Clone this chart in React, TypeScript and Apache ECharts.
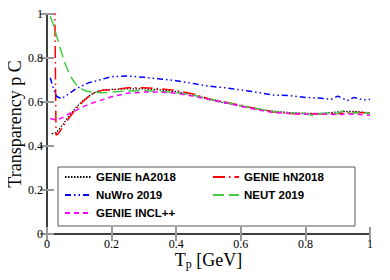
import React, { useEffect, useRef } from "react";
import * as echarts from "echarts";

const xTicks = [0, 0.2, 0.4, 0.6, 0.8, 1];
const yTicks = [0, 0.2, 0.4, 0.6, 0.8, 1];

const hA2018X = [0.015, 0.03, 0.05, 0.07, 0.09, 0.11, 0.13, 0.15, 0.175, 0.2, 0.25, 0.3, 0.35, 0.4, 0.45, 0.5, 0.55, 0.6, 0.65, 0.7, 0.75, 0.8, 0.85, 0.9, 0.95, 1.0];
const hA2018Y = [0.455, 0.462, 0.5, 0.54, 0.575, 0.605, 0.628, 0.645, 0.655, 0.657, 0.66, 0.66, 0.655, 0.647, 0.635, 0.612, 0.595, 0.583, 0.57, 0.558, 0.552, 0.549, 0.548, 0.555, 0.558, 0.55];

const hN2018X = [0.024, 0.026, 0.028, 0.035, 0.05, 0.07, 0.09, 0.11, 0.13, 0.15, 0.175, 0.2, 0.25, 0.3, 0.35, 0.4, 0.45, 0.5, 0.55, 0.6, 0.65, 0.7, 0.75, 0.8, 0.85, 0.9, 0.95, 1.0];
const hN2018Y = [1.05, 0.75, 0.45, 0.455, 0.49, 0.53, 0.57, 0.6, 0.625, 0.645, 0.655, 0.655, 0.665, 0.665, 0.66, 0.652, 0.638, 0.615, 0.6, 0.585, 0.568, 0.555, 0.548, 0.545, 0.545, 0.548, 0.552, 0.55];

const nuwroX = [0.01, 0.02, 0.03, 0.045, 0.06, 0.075, 0.09, 0.11, 0.13, 0.15, 0.175, 0.2, 0.25, 0.3, 0.35, 0.4, 0.45, 0.5, 0.55, 0.6, 0.65, 0.7, 0.75, 0.8, 0.85, 0.88, 0.9, 0.93, 0.95, 0.98, 1.0];
const nuwroY = [0.71, 0.66, 0.625, 0.615, 0.63, 0.645, 0.66, 0.675, 0.688, 0.695, 0.705, 0.715, 0.718, 0.712, 0.705, 0.697, 0.685, 0.672, 0.665, 0.655, 0.644, 0.632, 0.629, 0.621, 0.617, 0.612, 0.627, 0.606, 0.621, 0.609, 0.612];

const neutX = [0.01, 0.02, 0.03, 0.04, 0.05, 0.06, 0.07, 0.08, 0.09, 0.1, 0.12, 0.14, 0.17, 0.2, 0.25, 0.3, 0.35, 0.4, 0.45, 0.5, 0.55, 0.6, 0.65, 0.7, 0.75, 0.8, 0.82, 0.85, 0.88, 0.9, 0.92, 0.94, 0.96, 1.0];
const neutY = [0.99, 0.95, 0.9, 0.85, 0.8, 0.76, 0.725, 0.7, 0.68, 0.665, 0.65, 0.645, 0.642, 0.645, 0.65, 0.652, 0.648, 0.642, 0.632, 0.615, 0.6, 0.582, 0.57, 0.556, 0.55, 0.548, 0.54, 0.548, 0.55, 0.548, 0.562, 0.548, 0.552, 0.548];

const inclX = [0.01, 0.03, 0.05, 0.07, 0.09, 0.11, 0.13, 0.15, 0.175, 0.2, 0.25, 0.3, 0.35, 0.4, 0.45, 0.5, 0.55, 0.6, 0.65, 0.7, 0.75, 0.8, 0.85, 0.9, 0.95, 1.0];
const inclY = [0.525, 0.518, 0.53, 0.548, 0.562, 0.577, 0.59, 0.6, 0.612, 0.624, 0.64, 0.645, 0.645, 0.64, 0.627, 0.612, 0.598, 0.58, 0.565, 0.552, 0.548, 0.545, 0.545, 0.543, 0.545, 0.54];

const zip = (xs: number[], ys: number[]) => xs.map((x, i) => [x, ys[i]]);

const SERIF = "Liberation Serif, DejaVu Serif, serif";
const SANS = "Liberation Sans, Arial, sans-serif";

export default function App() {
  const ref = useRef<HTMLDivElement>(null);
  useEffect(() => {
    const chart = echarts.init(ref.current!, null, { renderer: "svg" });
    const axisCommon = {
      type: "value" as const,
      min: 0,
      max: 1,
      interval: 0.2,
      axisLine: { show: true, lineStyle: { color: "#333", width: 1.5 } },
      axisTick: { show: true, inside: true, length: 7, lineStyle: { color: "#999", width: 2 } },
      splitLine: { show: false },
    };
    const labelStyle = { color: "#000", fontFamily: SERIF, fontSize: 12 };
    const mk = (name: string, data: number[][], color: string, type: any, width = 1.5) => ({
      name,
      type: "line",
      data,
      symbol: "none",
      smooth: false,
      xAxisIndex: 0,
      yAxisIndex: 0,
      lineStyle: { color, width, type },
      itemStyle: { color },
      clip: true,
    });
    const fmt = (v: number) => String(+v.toFixed(1));
    const legendCommon = {
      orient: "vertical",
      top: 171,
      z: 20,
      padding: 0,
      itemWidth: 26,
      itemHeight: 14,
      itemGap: 6,
      itemStyle: { opacity: 0 },
      textStyle: { fontFamily: SANS, fontWeight: "bold", fontSize: 11.5, color: "#000" },
    };
    chart.setOption({
      animation: false,
      grid: { left: 47, right: 20, top: 14, bottom: 46, outerBoundsMode: "none", containLabel: false },
      xAxis: [
        {
          ...axisCommon,
          position: "bottom",
          axisLabel: { ...labelStyle, margin: 4, formatter: fmt },
          name: "{t|T}{s|p}{t| [GeV]}",
          nameLocation: "middle",
          nameGap: 15,
          nameMoveOverlap: false,
          nameTextStyle: {
            rich: {
              t: { fontFamily: SERIF, fontSize: 18, color: "#000" },
              s: { fontFamily: SERIF, fontSize: 12, color: "#000", padding: [9, 0, 0, 0] },
            },
          },
        },
        { ...axisCommon, position: "top", axisLabel: { show: false } },
      ],
      yAxis: [
        {
          ...axisCommon,
          position: "left",
          axisLabel: { ...labelStyle, margin: 4, formatter: fmt },
          name: "Transparency p C",
          nameLocation: "middle",
          nameGap: 23,
          nameMoveOverlap: false,
          nameTextStyle: { fontFamily: SERIF, fontSize: 18, color: "#000" },
        },
        { ...axisCommon, position: "right", axisLabel: { show: false } },
      ],
      legend: [
        { ...legendCommon, left: 64, data: ["GENIE hA2018", "NuWro 2019", "GENIE INCL++"] },
        { ...legendCommon, left: 212, data: ["GENIE hN2018", "NEUT 2019"] },
      ],
      graphic: [
        {
          type: "rect",
          z: 10,
          shape: { x: 58, y: 167, width: 297, height: 59 },
          style: { fill: "#fff", stroke: "#555", lineWidth: 1 },
        },
      ],
      series: [
        mk("GENIE hA2018", zip(hA2018X, hA2018Y), "#000000", [1.5, 1.5], 1.2),
        mk("GENIE hN2018", zip(hN2018X, hN2018Y), "#ff0000", [12, 4, 1.5, 4]),
        mk("NuWro 2019", zip(nuwroX, nuwroY), "#0000ff", [6, 3, 1.5, 3, 1.5, 3]),
        mk("NEUT 2019", zip(neutX, neutY), "#44cc44", [11, 5]),
        mk("GENIE INCL++", zip(inclX, inclY), "#ff00ff", [5, 4]),
      ],
    });
    return () => chart.dispose();
  }, []);
  return <div ref={ref} style={{ width: 390, height: 280, margin: -8 }} />;
}
